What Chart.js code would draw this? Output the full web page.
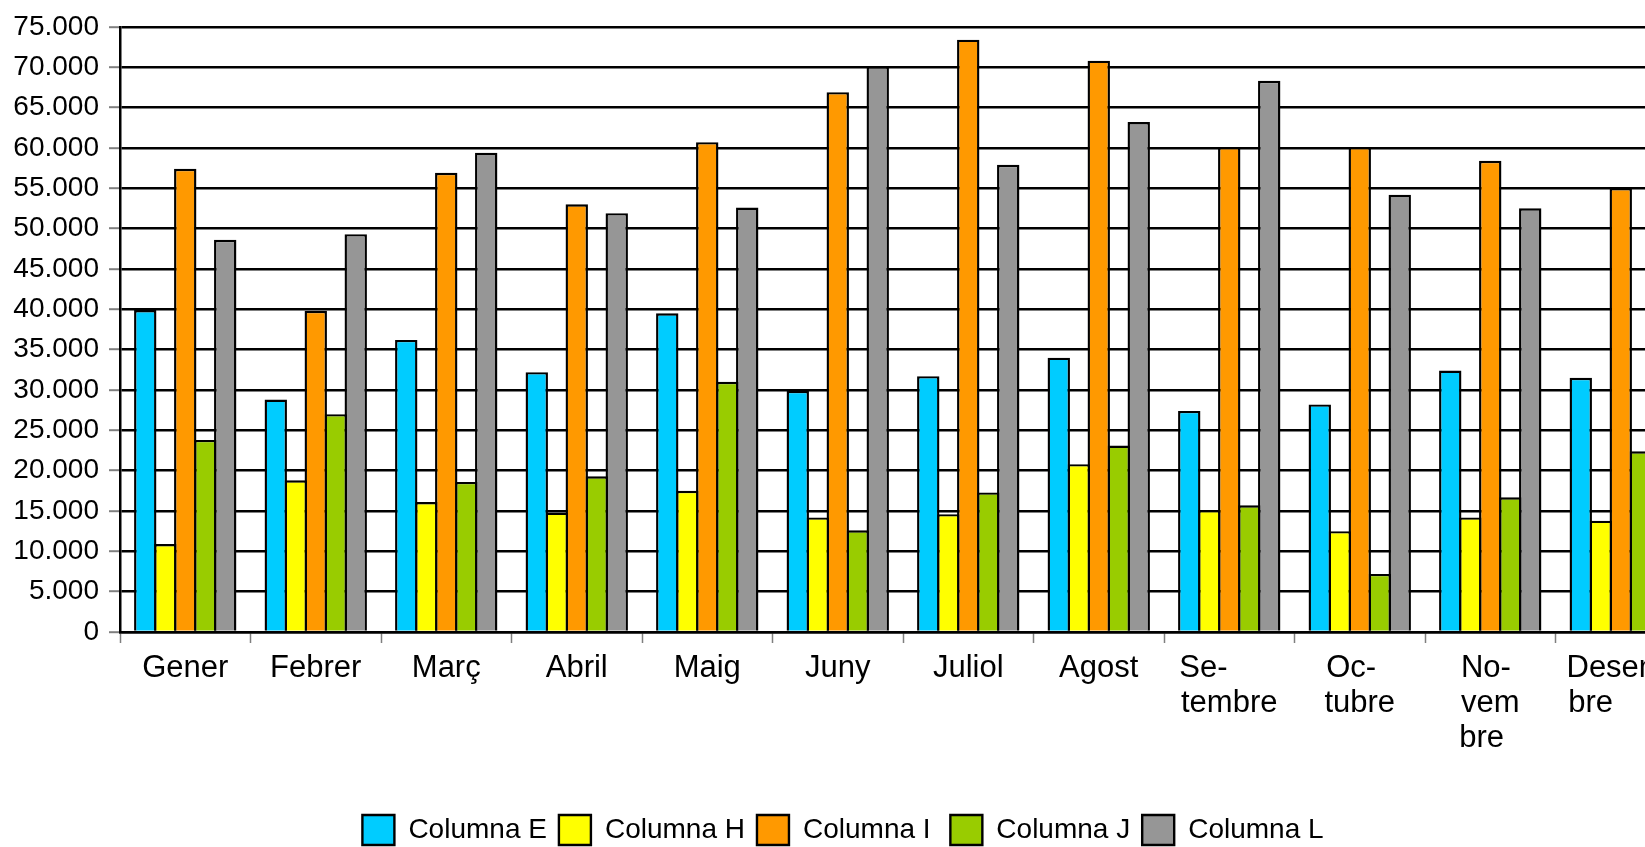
<!DOCTYPE html>
<html><head><meta charset="utf-8">
<script src="https://cdn.jsdelivr.net/npm/chart.js@4/dist/chart.umd.min.js"></script>
<style>
html,body{margin:0;padding:0;background:#fff;overflow:hidden;}
#wrap{width:1645px;height:847px;overflow:hidden;position:relative;background:#fff;}
#box{width:1690px;height:855px;position:absolute;left:0;top:0;}
</style></head><body>
<div id="wrap"><div id="box"><canvas id="c"></canvas></div></div>
<script>
const categories = ["Gener", "Febrer", "Març", "Abril", "Maig", "Juny", "Juliol", "Agost",
  ["Se-", "tembre"], ["Oc-", "tubre"], ["No-", "vem", "bre"], ["Desem-", "bre"]];
const seriesNames = ["Columna E", "Columna H", "Columna I", "Columna J", "Columna L"];
const columnaE = [39900, 28800, 36200, 32200, 39500, 29900, 31700, 34000, 27400, 28200, 32400, 31500];
const columnaH = [10900, 18800, 16100, 14800, 17500, 14200, 14600, 20800, 15100, 12500, 14200, 13800];
const columnaI = [57400, 39800, 56900, 53000, 60700, 66900, 73400, 70800, 60100, 60100, 58400, 55000];
const columnaJ = [23800, 27000, 18600, 19300, 31000, 12600, 17300, 23100, 15700, 7200, 16700, 22400];
const columnaL = [48600, 49300, 59400, 51900, 52600, 70100, 57900, 63200, 68300, 54200, 52500, 52000];
const colors = ["#00CCFF", "#FFFF00", "#FF9900", "#99CC00", "#969696"];
const yMin = 0, yMax = 75000, yStep = 5000;

const seriesValues = [columnaE, columnaH, columnaI, columnaJ, columnaL];
const FONT = "'Liberation Sans', Arial, sans-serif";
const X_FONT_SIZE = 31;

function fmt(v) {
  return String(v).replace(/\B(?=(\d{3})+(?!\d))/g, '.');
}

// multi-line labels: lines left-aligned inside a centred block
const mctx = document.createElement('canvas').getContext('2d');
mctx.font = X_FONT_SIZE + "px " + FONT;
function leftAlignLines(lines) {
  if (!Array.isArray(lines)) return lines;
  const w = lines.map(l => mctx.measureText(l).width);
  const maxW = Math.max(...w);
  const sp = mctx.measureText(' ').width;
  return lines.map((l, i) => l + ' '.repeat(Math.round((maxW - w[i]) / sp)));
}

const datasets = seriesNames.map((name, i) => ({
  label: name,
  data: seriesValues[i],
  backgroundColor: colors[i],
  borderColor: '#000',
  borderWidth: 2.4,
  borderSkipped: 'start',
  barPercentage: 1.12,
  categoryPercentage: 0.766
}));

new Chart(document.getElementById('c'), {
  type: 'bar',
  data: {labels: categories, datasets: datasets},
  options: {
    responsive: true,
    maintainAspectRatio: false,
    animation: false,
    layout: {padding: {top: 24, right: 4, left: 0, bottom: 0}},
    plugins: {
      tooltip: {enabled: false},
      legend: {
        position: 'bottom',
        labels: {
          boxWidth: 32,
          boxHeight: 30,
          padding: 12,
          color: '#000',
          font: {family: FONT, size: 28},
          generateLabels: (chart) => chart.data.datasets.map((ds, i) => ({
            text: ds.label + (/ I$/.test(ds.label) ? ' ' : ''),
            fillStyle: ds.backgroundColor,
            strokeStyle: '#000',
            lineWidth: 2.4,
            datasetIndex: i,
            hidden: false
          }))
        }
      }
    },
    scales: {
      x: {
        grid: {
          display: true,
          drawOnChartArea: false,
          drawTicks: true,
          tickLength: 11,
          tickColor: '#7f7f7f',
          tickWidth: 1.5,
          offset: true
        },
        border: {display: true, color: '#000', width: 2.5},
        ticks: {
          autoSkip: false,
          maxRotation: 0,
          minRotation: 0,
          padding: 8,
          color: '#000',
          font: {family: FONT, size: X_FONT_SIZE, lineHeight: 1.13},
          callback: (v, i) => leftAlignLines(categories[i])
        },
        afterFit: (s) => { s.height = 171; }
      },
      y: {
        min: yMin,
        max: yMax,
        grid: {
          color: '#000',
          lineWidth: 2.4,
          tickLength: 11,
          tickColor: '#7f7f7f',
          tickWidth: 2
        },
        border: {display: true, color: '#000', width: 2.5},
        ticks: {
          stepSize: yStep,
          padding: 10,
          color: '#000',
          font: {family: FONT, size: 28},
          callback: (v) => fmt(v)
        },
        afterFit: (s) => { s.width = 120; }
      }
    }
  }
});
</script>
</body></html>
